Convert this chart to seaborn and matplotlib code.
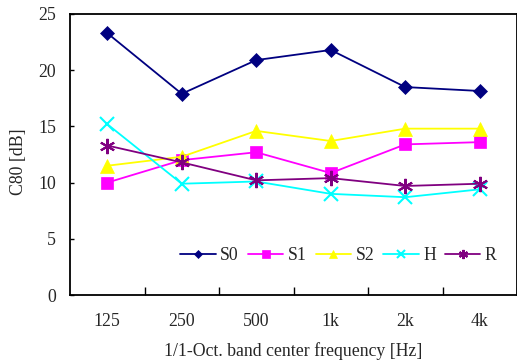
import matplotlib
matplotlib.use("Agg")
import matplotlib.pyplot as plt
import seaborn as sns
import pandas as pd

freqs = ["125", "250", "500", "1k", "2k", "4k"]
s0 = [23.3, 17.9, 20.9, 21.8, 18.5, 18.15]
s1 = [10.0, 12.0, 12.7, 10.85, 13.4, 13.6]
s2 = [11.5, 12.3, 14.6, 13.7, 14.8, 14.8]
h = [15.2, 9.9, 10.1, 9.0, 8.7, 9.4]
r = [13.3, 11.8, 10.2, 10.4, 9.7, 9.9]

series = {"S0": s0, "S1": s1, "S2": s2, "H": h, "R": r}
colors = {"S0": "#000080", "S1": "#FF00FF", "S2": "#FFFF00", "H": "#00FFFF", "R": "#800080"}
markers = {"S0": "D", "S1": "s", "S2": "^", "H": "x", "R": (6, 2, 0)}
msizes = {"S0": 7, "S1": 9, "S2": 10, "H": 10, "R": 11}

rows = []
for name, vals in series.items():
    for i, v in enumerate(vals):
        rows.append({"pos": i, "C80": v, "series": name})
df = pd.DataFrame(rows)

sns.set_style("white")
plt.rcParams["font.family"] = ["Liberation Serif", "DejaVu Serif"]
FS = 12.8

fig = plt.figure(figsize=(5.17, 3.62), dpi=100)
ax = fig.add_axes([70 / 517, 67 / 362, 447 / 517, 281 / 362])

for name in series:
    sub = df[df["series"] == name]
    sns.lineplot(data=sub, x="pos", y="C80", ax=ax, color=colors[name],
                 marker=markers[name], markersize=msizes[name],
                 markeredgecolor=colors[name], markeredgewidth=1.5 if name in ("H", "R") else 0.5,
                 linewidth=1.3, label=name)

ax.set_xlim(-0.5, 5.5)
ax.set_ylim(0, 25)
ax.set_yticks(range(0, 26, 5))
ax.set_xticks(range(len(freqs)))
ax.set_xticklabels(freqs)
ax.set_xticks([i + 0.5 for i in range(len(freqs))], minor=True)
ax.tick_params(axis="x", which="major", length=0, pad=13, labelsize=FS)
ax.tick_params(axis="x", which="minor", direction="in", length=6, width=1, color="black")
ax.tick_params(axis="y", direction="in", length=3, width=1, color="black", labelsize=FS, pad=10)
ax.tick_params(left=True, bottom=True, which="both")

for side in ("left", "bottom", "top", "right"):
    ax.spines[side].set_color("black")
    ax.spines[side].set_linewidth(1.3)

ax.set_xlabel("1/1-Oct. band center frequency [Hz]", fontsize=FS, labelpad=9)
ax.set_ylabel("C80 [dB]", fontsize=FS)
ax.yaxis.set_label_coords(-43 / 447, (295 - 162) / 281)

ax.legend(loc="center", bbox_to_anchor=((338.5 - 70) / 447, (295 - 256) / 281), ncol=5,
          frameon=False, fontsize=FS, handlelength=2.0, columnspacing=0.5,
          handletextpad=0.25, markerscale=0.6, borderpad=0, borderaxespad=0)

fig.savefig("out.png", dpi=100)
